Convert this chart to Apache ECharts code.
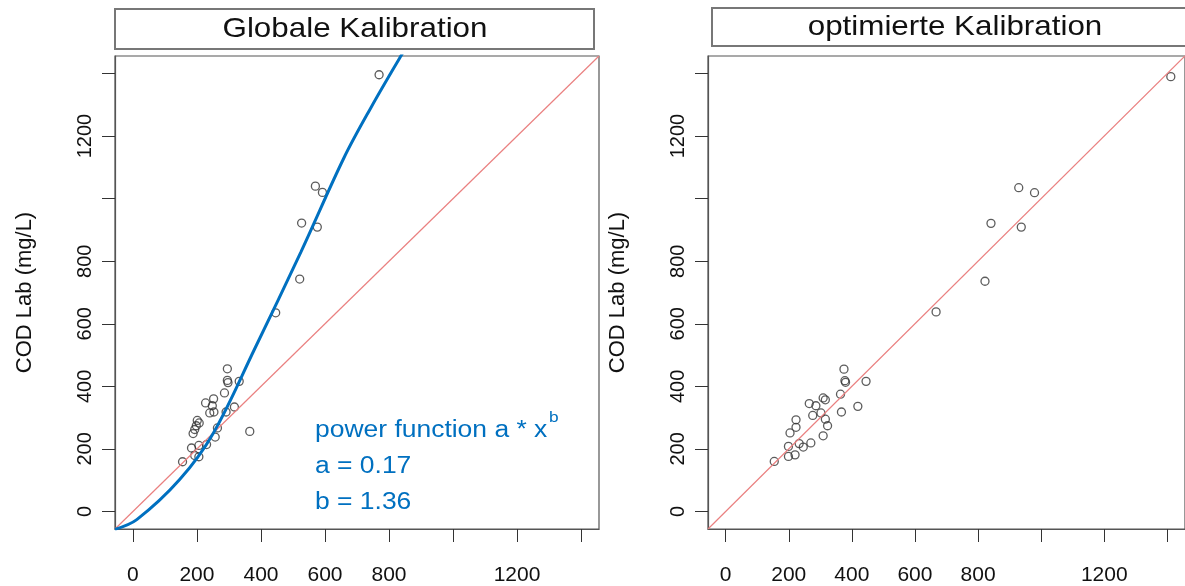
<!DOCTYPE html>
<html>
<head>
<meta charset="utf-8">
<script src="https://cdn.jsdelivr.net/npm/echarts@6/dist/echarts.min.js"></script>
<style>html,body{margin:0;padding:0;background:#fff}#c{width:1185px;height:586px}</style>
</head>
<body>
<div id="c"></div>
<script>
// ---- data ----
// Left panel: global calibration (sensor COD vs lab COD)
const globalX = [769, 570, 592, 527, 576, 521, 446, 295, 295, 297, 332, 286, 227, 252, 248, 240, 253, 291, 317, 201, 207, 198, 188, 193, 264, 257, 365, 183, 206, 230, 193, 206, 155];
const globalY = [1396, 1040, 1020, 922, 909, 743, 635, 456, 419, 412, 416, 379, 347, 360, 338, 315, 318, 318, 334, 291, 283, 274, 249, 262, 267, 238, 256, 203, 211, 214, 179, 175, 159];
// Right panel: optimised calibration
const optX = [1411, 929, 979, 841, 937, 822, 667, 375, 378, 380, 445, 364, 309, 316, 265, 286, 419, 302, 276, 316, 367, 223, 323, 223, 204, 309, 233, 270, 199, 246, 199, 220, 154];
const optY = [1390, 1035, 1019, 921, 909, 736, 638, 455, 418, 413, 416, 375, 363, 357, 345, 338, 336, 315, 307, 295, 318, 293, 274, 269, 251, 242, 217, 219, 208, 206, 176, 181, 160];
// Blue power-function curve
const curveX = [-56, 12, 146, 252, 379, 525, 659, 743, 833, 875];
const curveY = [-57, -26, 102, 252, 517, 830, 1130, 1290, 1449, 1520];
// Axis setup
const axisRange = [-56, 1456];
const tickValues = [0, 200, 400, 600, 800, 1000, 1200, 1400];
const labelValues = [0, 200, 400, 600, 800, 1200];
const titles = ['Globale Kalibration', 'optimierte Kalibration'];
const yName = 'COD Lab (mg/L)';
const annot = ['power function a * x', 'b', 'a = 0.17', 'b = 1.36'];

const zip = (a, b) => a.map((v, i) => [v, b[i]]);
const FONT = '"Liberation Sans", Arial, sans-serif';
const fmt = v => String(v);

function xAxis(gi) {
  return {
    type: 'value', gridIndex: gi, min: axisRange[0], max: axisRange[1],
    axisLine: {show: true, onZero: false, lineStyle: {color: '#555', width: 1.2}}, splitLine: {show: false},
    axisTick: {show: true, length: 13, inside: false, customValues: tickValues, lineStyle: {color: '#333', width: 1}},
    axisLabel: {show: true, customValues: labelValues, formatter: fmt, margin: 36, fontSize: 21, color: '#111', fontFamily: FONT}
  };
}
function yAxis(gi) {
  return {
    type: 'value', gridIndex: gi, min: axisRange[0], max: axisRange[1],
    axisLine: {show: true, onZero: false, lineStyle: {color: '#555', width: 1.2}}, splitLine: {show: false},
    axisTick: {show: true, length: 13, inside: false, customValues: tickValues, lineStyle: {color: '#333', width: 1}},
    axisLabel: {show: true, customValues: labelValues, formatter: fmt, rotate: 90, margin: 20, fontSize: 20, color: '#111', fontFamily: FONT},
    name: yName, nameLocation: 'middle', nameGap: 79, nameRotate: 90,
    nameTextStyle: {fontSize: 22, color: '#111', fontFamily: FONT}
  };
}
const pointStyle = {color: 'rgba(0,0,0,0)', borderColor: '#333', borderWidth: 1.3};
const redLine = zip(axisRange, axisRange);

const option = {
  animation: false,
  backgroundColor: '#fff',
  grid: [
    {left: 115, top: 56, width: 484, height: 473, show: true, borderColor: '#555', borderWidth: 1.2, backgroundColor: 'transparent'},
    {left: 708, top: 56, width: 481, height: 475, show: true, borderColor: '#555', borderWidth: 1.2, backgroundColor: 'transparent'}
  ],
  xAxis: [xAxis(0), xAxis(1)],
  yAxis: [yAxis(0), yAxis(1)],
  series: [
    {type: 'line', xAxisIndex: 0, yAxisIndex: 0, data: redLine, symbol: 'none', lineStyle: {color: '#ea8080', width: 1.2}, silent: true},
    {type: 'line', xAxisIndex: 0, yAxisIndex: 0, data: zip(curveX, curveY), symbol: 'none', smooth: 0.35, lineStyle: {color: '#0070C0', width: 3}, silent: true},
    {type: 'scatter', xAxisIndex: 0, yAxisIndex: 0, data: zip(globalX, globalY), symbol: 'circle', symbolSize: 8, itemStyle: pointStyle},
    {type: 'line', xAxisIndex: 1, yAxisIndex: 1, data: redLine, symbol: 'none', lineStyle: {color: '#ea8080', width: 1.2}, silent: true},
    {type: 'scatter', xAxisIndex: 1, yAxisIndex: 1, data: zip(optX, optY), symbol: 'circle', symbolSize: 8, itemStyle: pointStyle}
  ],
  graphic: [
    {type: 'rect', shape: {x: 115, y: 9, width: 479, height: 40}, style: {fill: '#fff', stroke: '#777', lineWidth: 2}},
    {type: 'rect', shape: {x: 712, y: 8, width: 480, height: 38}, style: {fill: '#fff', stroke: '#777', lineWidth: 2}},
    {type: 'text', x: 355, y: 29, scaleX: 1.12, style: {text: titles[0], fontSize: 28, fontFamily: FONT, fill: '#111', textAlign: 'center', textVerticalAlign: 'middle'}},
    {type: 'text', x: 955, y: 27, scaleX: 1.12, style: {text: titles[1], fontSize: 28, fontFamily: FONT, fill: '#111', textAlign: 'center', textVerticalAlign: 'middle'}},
    {type: 'text', x: 315, y: 431, scaleX: 1.15, style: {text: annot[0], fontSize: 23, fontFamily: FONT, fill: '#0070C0', textAlign: 'left', textVerticalAlign: 'middle'}},
    {type: 'text', x: 549, y: 418, scaleX: 1.15, style: {text: annot[1], fontSize: 15, fontFamily: FONT, fill: '#0070C0', textAlign: 'left', textVerticalAlign: 'middle'}},
    {type: 'text', x: 315, y: 467, scaleX: 1.15, style: {text: annot[2], fontSize: 23, fontFamily: FONT, fill: '#0070C0', textAlign: 'left', textVerticalAlign: 'middle'}},
    {type: 'text', x: 315, y: 503, scaleX: 1.15, style: {text: annot[3], fontSize: 23, fontFamily: FONT, fill: '#0070C0', textAlign: 'left', textVerticalAlign: 'middle'}}
  ]
};
const chart = echarts.init(document.getElementById('c'), null, {renderer: 'canvas'});
chart.setOption(option);
</script>
</body>
</html>
